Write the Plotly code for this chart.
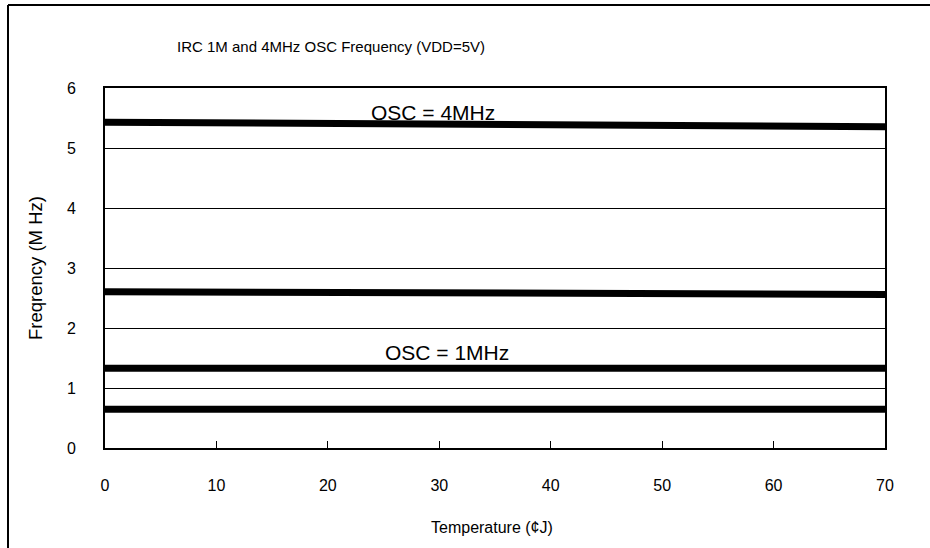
import plotly.graph_objects as go

temps = [0, 25, 70]
osc4_high = [5.43, 5.40, 5.355]
osc4_low = [2.605, 2.58, 2.56]
osc1_high = [1.33, 1.33, 1.33]
osc1_low = [0.645, 0.645, 0.645]

x_ticks = [0, 10, 20, 30, 40, 50, 60, 70]
y_ticks = [0, 1, 2, 3, 4, 5, 6]

W, H = 930, 548
L, R, T, B = 105, 45, 88, 100
pw, ph = W - L - R, H - T - B

def px(xp):
    return (xp - L) / pw

def py(yp):
    return (H - B - yp) / ph

fig = go.Figure()
for ys in [osc4_high, osc4_low, osc1_high, osc1_low]:
    fig.add_trace(go.Scatter(x=temps, y=ys, mode="lines",
                             line=dict(color="black", width=7),
                             showlegend=False, hoverinfo="skip"))

font = "Liberation Sans, Arial, sans-serif"
fig.update_layout(
    width=W, height=H,
    margin=dict(l=L, r=R, t=T, b=B),
    paper_bgcolor="white", plot_bgcolor="white",
    font=dict(family=font, color="black", size=16),
    xaxis=dict(range=[0, 70], tickvals=x_ticks, showgrid=False,
               showline=True, linecolor="black", linewidth=2, mirror=True,
               ticks="inside", ticklen=7, tickcolor="black", tickwidth=1,
               ticklabelstandoff=22, tickfont=dict(size=16), zeroline=False),
    yaxis=dict(range=[0, 6], tickvals=y_ticks, showgrid=True,
               gridcolor="black", gridwidth=1,
               showline=True, linecolor="black", linewidth=2, mirror=True,
               ticks="", ticklabelstandoff=24, tickfont=dict(size=16), zeroline=False),
    title=dict(text="IRC 1M and 4MHz OSC Frequency (VDD=5V)",
               xref="container", x=331 / W, xanchor="center",
               yref="container", y=1 - 47 / H, yanchor="middle",
               font=dict(size=15)),
    annotations=[
        dict(text="OSC = 4MHz", x=px(433), y=py(112), xref="paper", yref="paper",
             showarrow=False, font=dict(size=21), xanchor="center", yanchor="middle"),
        dict(text="OSC = 1MHz", x=px(447), y=py(352), xref="paper", yref="paper",
             showarrow=False, font=dict(size=21), xanchor="center", yanchor="middle"),
        dict(text="Temperature (¢J)", x=px(492), y=py(527), xref="paper", yref="paper",
             showarrow=False, font=dict(size=16), xanchor="center", yanchor="middle"),
        dict(text="Freqrency (M Hz)", x=px(35), y=py(268), xref="paper", yref="paper",
             showarrow=False, font=dict(size=18.5), textangle=-90,
             xanchor="center", yanchor="middle"),
    ],
    shapes=[
        dict(type="line", xref="paper", yref="paper", x0=px(8), x1=px(930),
             y0=py(5), y1=py(5), line=dict(color="black", width=2)),
        dict(type="line", xref="paper", yref="paper", x0=px(8), x1=px(8),
             y0=py(5), y1=py(548), line=dict(color="black", width=2)),
    ],
)

fig.write_html("out.html", config={"displayModeBar": False},
               post_script="document.body.style.margin='0';document.body.style.overflow='hidden';")
